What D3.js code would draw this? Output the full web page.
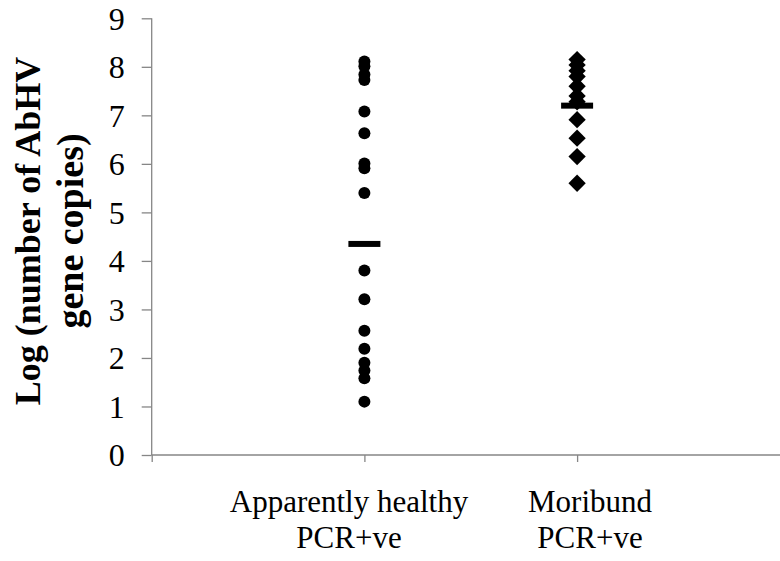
<!DOCTYPE html>
<html><head><meta charset="utf-8">
<script src="https://cdn.jsdelivr.net/npm/d3@7"></script>
<style>html,body{margin:0;padding:0;background:#fff;}svg{display:block;}</style>
</head><body>
<div id="chart"></div>
<script>
// ---- data ----
const categories = [["Apparently healthy", "PCR+ve"], ["Moribund", "PCR+ve"]];
const categoryX = [1, 2];
const healthyValues = [8.11, 8.01, 7.84, 7.73, 7.08, 6.63, 6.01, 5.91, 5.40, 3.80, 3.21, 2.56, 2.19, 1.90, 1.74, 1.58, 1.10];
const moribundValues = [8.15, 8.04, 7.92, 7.80, 7.60, 7.40, 7.28, 6.91, 6.53, 6.15, 5.60];
const meanValues = [4.35, 7.20];
const yTicks = [0, 1, 2, 3, 4, 5, 6, 7, 8, 9];
const yTitle = ["Log (number of AbHV", "gene copies)"];

// ---- chart ----
const W = 780, H = 561;
const svg = d3.select("#chart").append("svg").attr("width", W).attr("height", H);
const x = d3.scaleLinear().domain([0, 3]).range([151.7, 789.8]);
const y = d3.scaleLinear().domain([0, 9]).range([455, 18.3]);
const axisColor = "#868686";
const serif = "'Liberation Serif','Times New Roman',serif";

// y axis
const yAxis = svg.append("g").attr("transform", `translate(${x(0)},0)`)
  .call(d3.axisLeft(y).tickValues(yTicks).tickSize(10).tickPadding(17).tickFormat(d3.format("d")));
yAxis.select(".domain").attr("stroke", axisColor).attr("stroke-width", 1.3).attr("d", `M0,${y(9)}V${y(0)}`);
yAxis.selectAll(".tick line").attr("stroke", axisColor).attr("stroke-width", 1.3);
yAxis.selectAll(".tick text").attr("font-family", serif).attr("font-size", 32).attr("fill", "#000").attr("dy", "0.34em");

// x axis
const xAxis = svg.append("g").attr("transform", `translate(0,${y(0)})`)
  .call(d3.axisBottom(x).tickValues([0, 1, 2]).tickSize(7).tickFormat(""));
xAxis.select(".domain").attr("stroke", axisColor).attr("stroke-width", 1.3).attr("d", `M${x(0)},0H${x(3)}`);
xAxis.selectAll(".tick line").attr("stroke", axisColor).attr("stroke-width", 1.3);

// healthy points (circles)
svg.append("g").selectAll("circle").data(healthyValues).join("circle")
  .attr("cx", x(categoryX[0])).attr("cy", d => y(d)).attr("r", 6).attr("fill", "#000");

// moribund points (diamonds)
const diamond = d3.symbol().type(d3.symbolSquare).size(150);
svg.append("g").selectAll("path").data(moribundValues).join("path")
  .attr("d", diamond())
  .attr("transform", d => `translate(${x(categoryX[1])},${y(d)}) rotate(45)`)
  .attr("fill", "#000");

// mean bars
svg.append("g").selectAll("rect").data(meanValues).join("rect")
  .attr("x", (d, i) => x(categoryX[i]) - 16).attr("y", d => y(d) - 3)
  .attr("width", 32).attr("height", 6).attr("fill", "#000");

// category labels
const labelX = [349, 590];
categories.forEach((lines, i) => {
  const t = svg.append("text").attr("x", labelX[i]).attr("y", 512)
    .attr("text-anchor", "middle").attr("font-family", serif).attr("font-size", 31).attr("fill", "#000");
  lines.forEach((l, j) => t.append("tspan").attr("x", labelX[i]).attr("dy", j === 0 ? 0 : 36).text(l));
});

// y title
const tt = svg.append("text").attr("transform", "translate(0,231) rotate(-90)")
  .attr("text-anchor", "middle").attr("font-family", serif).attr("font-weight", "bold")
  .attr("fill", "#000");
yTitle.forEach((l, j) => tt.append("tspan").attr("x", 0).attr("y", j === 0 ? 40 : 83)
  .attr("font-size", j === 0 ? 36 : 38).text(l));
</script>
</body></html>
